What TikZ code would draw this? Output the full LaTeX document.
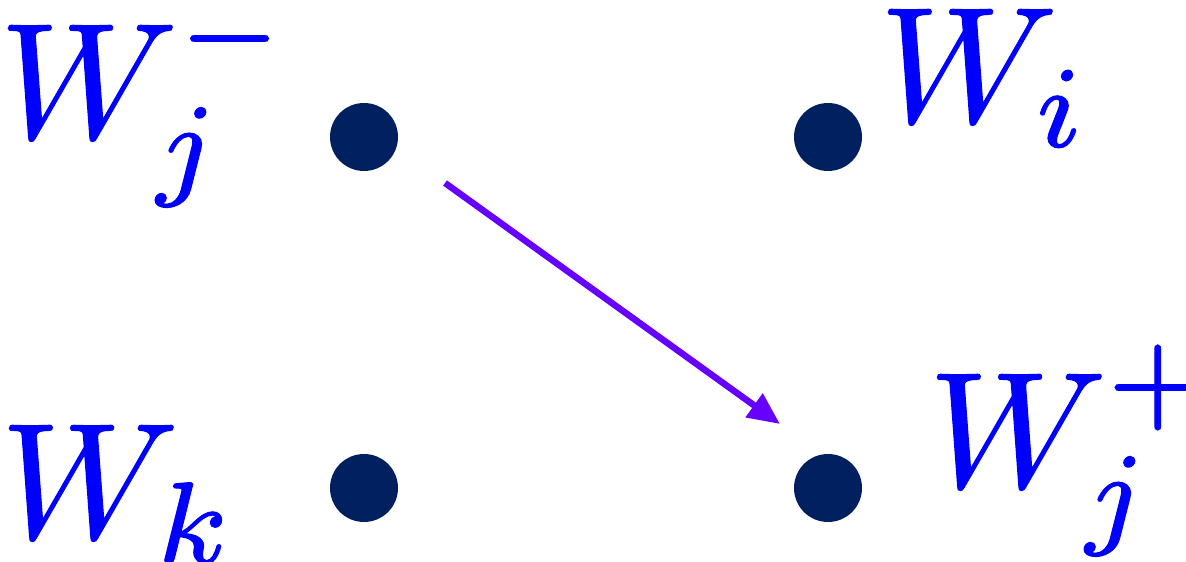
\documentclass[tikz,border=0pt]{standalone}
\usetikzlibrary{arrows.meta}
\definecolor{dotc}{RGB}{0,32,96}
\definecolor{txtc}{RGB}{0,0,255}
\definecolor{arrc}{RGB}{102,0,255}
\newcommand{\thk}[1]{\special{pdf:literal direct 2 Tr 0.07 w}#1\special{pdf:literal direct 0 Tr}}
\tikzset{
  dotnode/.style={circle, fill=dotc, minimum size=68pt, inner sep=0pt},
  lbl/.style={anchor=base west, inner sep=0pt, text=txtc, scale=16.5},
  arr/.style={draw=arrc, line width=6.5pt, -{Triangle[length=32pt,width=28pt]}}
}
\begin{document}
\begin{tikzpicture}[x=1pt,y=1pt]
\useasboundingbox (0,0) rectangle (1186,562);
\node[dotnode] (a) at (364,425) {};
\node[dotnode] (b) at (828,425) {};
\node[dotnode] (c) at (364,74) {};
\node[dotnode] (d) at (828,74) {};
\node[lbl] (la) at (-4,424) {\thk{$W_j^-$}};
\node[lbl] (lb) at (876,440) {\thk{$W_i$}};
\node[lbl] (lc) at (-3,24) {\thk{$W_k$}};
\node[lbl] (ld) at (925,75) {\thk{$W_j^+$}};
\coordinate (s) at (445,379);
\coordinate (e) at (780,138);
\draw[arr] (s) -- (e);
\end{tikzpicture}
\end{document}
